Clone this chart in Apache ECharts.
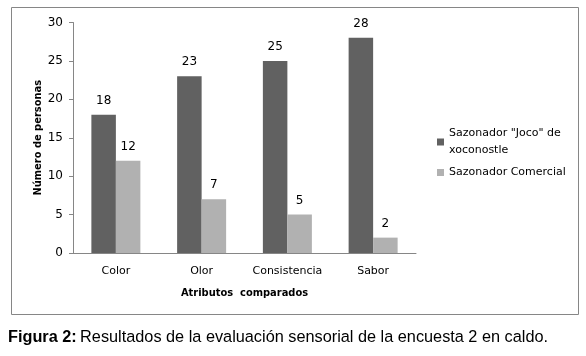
<!DOCTYPE html>
<html><head><meta charset="utf-8">
<script src="https://cdn.jsdelivr.net/npm/echarts@6/dist/echarts.min.js"></script>
<style>html,body{margin:0;padding:0;background:#fff;}#c{width:586px;height:356px;}</style>
</head><body><div id="c"></div>
<script>
const categories = ["Color", "Olor", "Consistencia", "Sabor"];
const joco = [18, 23, 25, 28];
const comercial = [12, 7, 5, 2];
const seriesNames = ['Sazonador "Joco" de xoconostle', 'Sazonador Comercial'];
const yTicks = [0, 5, 10, 15, 20, 25, 30];

const F = 'Verdana, "DejaVu Sans", sans-serif';
const FB = '"DejaVu Sans Condensed", "DejaVu Sans", sans-serif';
const chart = echarts.init(document.getElementById('c'));
chart.setOption({
  animation: false,
  backgroundColor: '#fff',
  grid: { left: 73, right: 170, top: 22.5, bottom: 103 },
  xAxis: {
    type: 'category', data: categories,
    name: 'Atributos  comparados', nameLocation: 'middle', nameGap: 35, nameMoveOverlap: false,
    nameTextStyle: { fontFamily: FB, fontSize: 11, fontWeight: 'bold', color: '#000' },
    axisLine: { lineStyle: { color: '#868686' } },
    axisTick: { length: 5, lineStyle: { color: '#868686' } },
    axisLabel: { fontFamily: F, fontSize: 11, color: '#000', margin: 13, interval: 0 }
  },
  yAxis: {
    type: 'value', min: yTicks[0], max: yTicks[yTicks.length - 1], interval: 5,
    name: 'Número de personas', nameLocation: 'middle', nameGap: 29, nameMoveOverlap: false,
    nameTextStyle: { fontFamily: FB, fontSize: 11, fontWeight: 'bold', color: '#000' },
    axisLine: { show: true, lineStyle: { color: '#868686' } },
    axisTick: { show: true, length: 4, lineStyle: { color: '#868686' } },
    axisLabel: { fontFamily: F, fontSize: 12, color: '#000', margin: 10 },
    splitLine: { show: false }
  },
  legend: {
    orient: 'vertical', left: 437, top: 125, padding: 0, itemWidth: 7, itemHeight: 7, itemGap: 5,
    icon: 'rect',
    textStyle: { fontFamily: F, fontSize: 11, color: '#000', lineHeight: 17 },
    formatter: function (n) { return n === seriesNames[0] ? 'Sazonador "Joco" de\nxoconostle' : n; },
    data: seriesNames
  },
  series: [
    { name: seriesNames[0], type: 'bar', data: joco, barWidth: 24.5, barGap: '0%',
      itemStyle: { color: '#616161' },
      label: { show: true, position: 'top', distance: 8, fontFamily: F, fontSize: 12, color: '#000' } },
    { name: seriesNames[1], type: 'bar', data: comercial, barWidth: 24.5,
      itemStyle: { color: '#b1b1b1' },
      label: { show: true, position: 'top', distance: 8, fontFamily: F, fontSize: 12, color: '#000' } }
  ],
  graphic: [
    { type: 'rect', shape: { x: 11.5, y: 7.5, width: 567, height: 307 }, style: { fill: null, stroke: '#868686', lineWidth: 1 }, z: -1 },
    { type: 'text', left: 8, top: 330, style: { rich: { b: { fontFamily: 'Arial, "Liberation Sans", sans-serif', fontSize: 16.3, fontWeight: 'bold', fill: '#000' }, n: { fontFamily: 'Arial, "Liberation Sans", sans-serif', fontSize: 16.3, fill: '#000' } }, text: '{b|Figura 2:} {n|Resultados de la evaluación sensorial de la encuesta 2 en caldo.}' } }
  ]
});
</script></body></html>
